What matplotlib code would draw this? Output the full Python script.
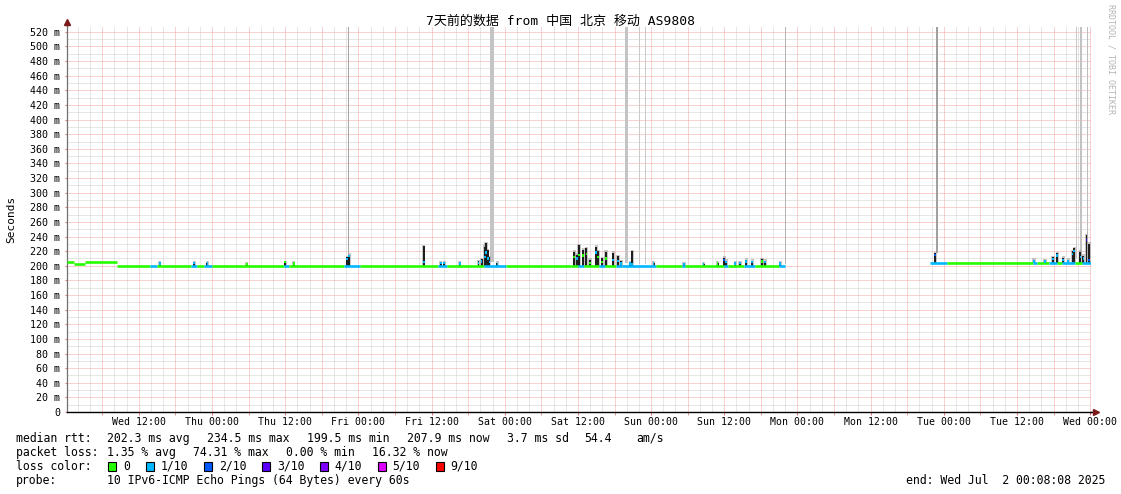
import matplotlib
matplotlib.use("Agg")
import matplotlib.pyplot as plt
from matplotlib.patches import Rectangle

# ---------------- data ----------------
title_text = "7天前的数据 from 中国 北京 移动 AS9808"

y_tick_values = [0, 20, 40, 60, 80, 100, 120, 140, 160, 180, 200, 220, 240, 260,
                 280, 300, 320, 340, 360, 380, 400, 420, 440, 460, 480, 500, 520]
y_tick_labels = ["0", "20 m", "40 m", "60 m", "80 m", "100 m", "120 m", "140 m",
                 "160 m", "180 m", "200 m", "220 m", "240 m", "260 m", "280 m",
                 "300 m", "320 m", "340 m", "360 m", "380 m", "400 m", "420 m",
                 "440 m", "460 m", "480 m", "500 m", "520 m"]

# hours since Wed 00:00 (window: Wed 00:08:08 .. next Wed 00:08:08)
x_tick_hours = [12, 24, 36, 48, 60, 72, 84, 96, 108, 120, 132, 144, 156, 168]
x_tick_labels = ["Wed 12:00", "Thu 00:00", "Thu 12:00", "Fri 00:00", "Fri 12:00",
                 "Sat 00:00", "Sat 12:00", "Sun 00:00", "Sun 12:00", "Mon 00:00",
                 "Mon 12:00", "Tue 00:00", "Tue 12:00", "Wed 00:00"]

loss_labels = ["0", "1/10", "2/10", "3/10", "4/10", "5/10", "9/10"]
loss_colors = ["#26ff00", "#00b8ff", "#0059ff", "#5e00ff", "#7e00ff", "#dd00ff", "#ff0000"]

# median rtt, piecewise (start h, end h, ms, loss index)
seg_start = [0.14, 1.3, 3.2, 8.4, 13.9, 15.0, 20.6, 21.6, 22.7, 24.0, 35.8, 36.6, 45.6,
             48.2, 61.0, 62.6, 68.6, 72.2, 82.8, 84.0, 85.0, 87.5, 88.5, 90.2, 91.2,
             96.8, 101.0, 101.6, 108.0, 108.6, 111.2, 113.0, 116.9,
             141.7, 144.6, 158.6, 159.2, 161.3, 162.6, 163.4, 165.5, 166.6]
seg_end = [1.3, 3.2, 8.4, 13.9, 15.0, 20.6, 21.6, 22.7, 24.0, 35.8, 36.6, 45.6, 48.2,
           61.0, 62.6, 68.6, 72.2, 82.8, 84.0, 85.0, 87.5, 88.5, 90.2, 91.2, 96.8,
           101.0, 101.6, 108.0, 108.6, 111.2, 113.0, 116.9, 118.0,
           144.6, 158.6, 159.2, 161.3, 162.6, 163.4, 165.5, 166.6, 168.1]
seg_ms = [205.5, 203, 205, 200, 200, 200, 200, 200, 200, 200, 200, 200, 200,
          200, 200, 200, 200, 200, 200, 200, 200, 200, 200, 200, 200,
          200, 200, 200, 200, 200, 200, 200, 200,
          204, 204, 204, 204, 204, 204, 204, 204, 204]
seg_loss = [0, 0, 0, 0, 1, 0, 1, 0, 1, 0, 1, 0, 1,
            0, 1, 0, 1, 0, 0, 1, 0, 1, 0, 1, 1,
            0, 1, 0, 1, 0, 1, 0, 1,
            1, 0, 1, 0, 1, 0, 1, 0, 1]

# smoke spikes (time h, low ms, high ms, median ms, loss index)
spike_t = [15.4, 21.1, 23.25, 29.7, 36.0, 37.4, 46.2, 46.5, 58.7, 61.5, 62.1, 64.6,
           67.7, 68.2, 68.7, 68.9, 69.2, 69.5, 70.8, 83.4, 83.8, 84.2, 84.9, 85.4,
           86.0, 87.0, 87.3, 88.0, 88.6, 89.8, 90.6, 91.1, 92.6, 92.9, 96.4, 101.4,
           104.6, 106.9, 108.0, 108.3, 109.8, 110.6, 111.6, 112.6, 114.2, 114.7, 117.2,
           142.6, 158.8, 160.6, 161.9, 162.6, 163.6, 164.4, 165.1, 165.4, 166.4, 166.9,
           167.4, 167.8]
spike_lo = [200, 200, 200, 200, 200, 200, 200, 200, 200, 200, 200, 200,
            200, 200, 200, 200, 200, 200, 200, 200, 200, 200, 200, 200,
            200, 200, 200, 200, 200, 200, 200, 200, 200, 200, 200, 200,
            200, 200, 200, 200, 200, 200, 200, 200, 200, 200, 200,
            204, 204, 204, 204, 204, 204, 204, 204, 204, 204, 204, 204, 204]
spike_hi = [204, 205, 204, 203, 205, 204, 212, 215, 227, 205, 205, 204,
            206, 209, 226, 231, 221, 212, 204, 219, 215, 228, 222, 224,
            208, 226, 220, 210, 219, 218, 213, 206, 205, 220, 204, 203,
            203, 204, 211, 207, 204, 205, 208, 207, 209, 207, 204,
            217, 208, 207, 212, 217, 211, 208, 220, 224, 219, 214, 242, 230]
spike_med = [203, 204, 203, 202, 205, 203, 209, 213, 205, 204, 204, 203,
             204, 206, 212, 218, 210, 205, 202, 212, 210, 215, 214, 216,
             204, 218, 212, 205, 210, 208, 207, 203, 203, 202, 203, 202,
             202, 203, 208, 205, 203, 204, 206, 205, 206, 205, 203,
             215, 206, 206, 209, 214, 208, 206, 216, 220, 212, 210, 235, 208]
spike_loss = [1, 1, 1, 0, 0, 0, 1, 1, 1, 1, 1, 1,
              1, 1, 1, 1, 1, 1, 1, 0, 1, 0, 0, 0,
              0, 1, 0, 0, 0, 1, 1, 1, 1, 1, 1, 1,
              1, 0, 2, 1, 1, 1, 1, 1, 0, 1, 1,
              2, 1, 1, 1, 1, 1, 1, 1, 1, 1, 1, 3, 2]

# single pings far above the range (time h, duration h, lowest ms)
out_t = [46.4, 69.9, 92.0, 94.1, 95.05, 118.1, 142.9, 165.7, 166.5, 167.6]
out_dur = [0.2, 0.6, 0.45, 0.2, 0.2, 0.2, 0.2, 0.2, 0.45, 0.2]
out_lo = [215, 205, 204, 202, 202, 203, 217, 210, 210, 230]

rtt_stats = ["202.3 ms avg", "234.5 ms max", "199.5 ms min", "207.9 ms now", "3.7 ms sd", "54.4", "am/s"]
loss_stats = ["1.35 % avg", "74.31 % max", "0.00 % min", "16.32 % now"]
probe_text = "10 IPv6-ICMP Echo Pings (64 Bytes) every 60s"
end_text = "end: Wed Jul  2 00:08:08 2025"

# ---------------- drawing ----------------
W, H = 1121, 494
fig = plt.figure(figsize=(W / 100, H / 100), dpi=100)
fig.patch.set_facecolor("white")


def fx(px):
    return px / W


def fy(py):
    return 1 - py / H


MONO = "DejaVu Sans Mono"
x0, x1 = 0.1356, 168.1356
y0, y1 = 0, 528

ax = fig.add_axes([fx(66.5), fy(412), fx(1091) - fx(66.5), fy(26) - fy(412)])
ax.set_xlim(x0, x1)
ax.set_ylim(y0, y1)
ax.set_facecolor("white")

RED = "#f4a4a4"
GRAY = "#cfcfcf"
dot = (0, (1, 1))
for h in range(2, 169, 2):
    if h % 6 == 0:
        ax.axvline(h, color=RED, lw=0.72, ls=dot, zorder=0.6)
    else:
        ax.axvline(h, color=GRAY, lw=0.72, ls=dot, zorder=0.5)
for v in range(10, 528, 10):
    if v % 20 == 0:
        ax.axhline(v, color=RED, lw=0.72, ls=dot, zorder=0.6)
    else:
        ax.axhline(v, color=GRAY, lw=0.72, ls=dot, zorder=0.5)

# outliers reaching the top
out_gray = ["#a8a8a8", "#c4c4c4", "#c4c4c4", "#cacaca", "#cacaca", "#b4b4b4",
            "#a0a0a0", "#c8c8c8", "#c2c2c2", "#bcbcbc"]
ax.bar(out_t, [y1 - 2 - v for v in out_lo], bottom=out_lo, width=out_dur,
       color=out_gray, linewidth=0, zorder=1)

# smoke halos + dark cores
ax.bar(spike_t, [h + 2 - l for h, l in zip(spike_hi, spike_lo)], bottom=spike_lo,
       width=0.55, color="#a0a0a0", alpha=0.6, linewidth=0, zorder=1.5)
ax.bar(spike_t, [h - l for h, l in zip(spike_hi, spike_lo)], bottom=spike_lo,
       width=0.32, color="#1e1e1e", linewidth=0, zorder=2)

# median line colored by loss
ax.hlines(seg_ms, seg_start, seg_end, colors=[loss_colors[i] for i in seg_loss],
          linewidth=1.9, zorder=3)
ax.bar(spike_t, [3.2] * len(spike_t), bottom=[m - 1.6 for m in spike_med], width=0.3,
       color=[loss_colors[i] for i in spike_loss], linewidth=0, zorder=3.5)

# axes style
for s in ("top", "right"):
    ax.spines[s].set_visible(False)
ax.spines["left"].set_color("#707070")
ax.spines["left"].set_linewidth(0.9)
ax.spines["bottom"].set_color("black")
ax.spines["bottom"].set_linewidth(1.0)
ax.spines["bottom"].set_zorder(4)

ax.set_yticks(y_tick_values)
ax.set_yticklabels(y_tick_labels, family=MONO, fontsize=7.2)
ax.tick_params(axis="y", length=1.5, color="#e08080", pad=3.2)

ax.set_xticks(x_tick_hours)
ax.set_xticklabels(x_tick_labels, family=MONO, fontsize=7.1)
ax.set_xticks([h + 6 for h in x_tick_hours[:-1]] + [6], minor=True)
ax.tick_params(axis="x", which="both", length=2.2, color="#e08080", pad=1.6)

# axis arrows
ax.plot([x1, x1 + 0.9], [0, 0], color="black", lw=1.0, clip_on=False, zorder=4)
ax.plot([x1 + 0.9], [0], marker=">", markersize=4.5, color="#7a1a1a", clip_on=False, zorder=5)
ax.plot([x0, x0], [y1, y1 + 4], color="#707070", lw=0.9, clip_on=False, zorder=4)
ax.plot([x0], [y1 + 5], marker="^", markersize=4.5, color="#7a1a1a", clip_on=False, zorder=5)

# title, labels
fig.text(fx(560.5), fy(21), title_text, ha="center", va="center", fontsize=9.4,
         family=[MONO, "Noto Sans CJK SC"])
fig.text(fx(11), fy(219), "Seconds", rotation=90, ha="center", va="center",
         fontsize=8, family=MONO)
fig.text(fx(1111), fy(4), "RRDTOOL / TOBI OETIKER", rotation=270, ha="center", va="top",
         fontsize=6, family=MONO, color="#b4b4b4")

# legend block
LF = 8.3
rows = {"rtt": 438, "loss": 452, "color": 466, "probe": 480}
fig.text(fx(16), fy(rows["rtt"]), "median rtt:", va="center", fontsize=LF, family=MONO)
for s, px in zip(rtt_stats, [107, 207, 307, 407, 507, 584, 636]):
    fig.text(fx(px), fy(rows["rtt"]), s, va="center", fontsize=LF, family=MONO)
fig.text(fx(16), fy(rows["loss"]), "packet loss:", va="center", fontsize=LF, family=MONO)
for s, px in zip(loss_stats, [107, 193, 286, 372]):
    fig.text(fx(px), fy(rows["loss"]), s, va="center", fontsize=LF, family=MONO)
fig.text(fx(16), fy(rows["color"]), "loss color:", va="center", fontsize=LF, family=MONO)
for lab, col, bx, tx in zip(loss_labels, loss_colors,
                            [108, 145.5, 204, 262, 319.5, 377.5, 435.5],
                            [123, 160.5, 219, 277, 334.5, 392.5, 450.5]):
    fig.add_artist(Rectangle((fx(bx), fy(rows["color"] + 4.5)), 8 / W, 9 / H,
                             transform=fig.transFigure, facecolor=col,
                             edgecolor="black", linewidth=0.8))
    fig.text(fx(tx), fy(rows["color"]), lab, va="center", fontsize=LF, family=MONO)
fig.text(fx(16), fy(rows["probe"]), "probe:", va="center", fontsize=LF, family=MONO)
fig.text(fx(107), fy(rows["probe"]), probe_text, va="center", fontsize=LF, family=MONO)
fig.text(fx(1105), fy(rows["probe"]), end_text, va="center", ha="right", fontsize=LF, family=MONO)

fig.savefig("out.png", dpi=100, facecolor="white")
